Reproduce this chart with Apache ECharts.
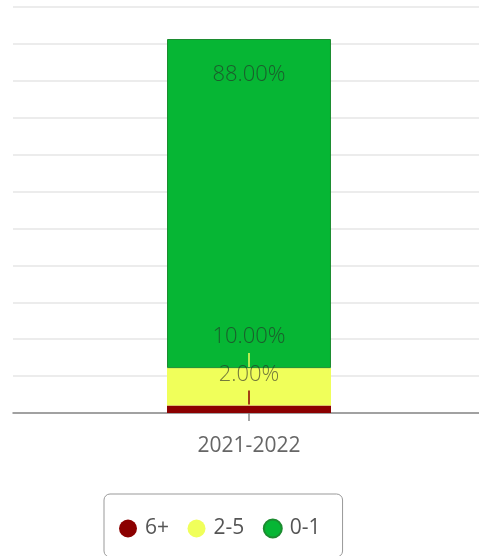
<!DOCTYPE html>
<html><head><meta charset="utf-8">
<script src="https://cdn.jsdelivr.net/npm/echarts@6/dist/echarts.min.js"></script>
<style>html,body{margin:0;padding:0;background:#fff}#c{width:479px;height:556px}</style>
</head><body><div id="c"></div>
<script>
const categories = ['2021-2022'];
const seriesNames = ['6+', '2-5', '0-1'];
const values6plus = [2];
const values2to5 = [10];
const values0to1 = [88];
const colors = ['#8b0000', '#f0ff5a', '#06b634'];

const chart = echarts.init(document.getElementById('c'));
const fmt = p => p.value.toFixed(2) + '%';
const font = {fontFamily: 'Open Sans', fontSize: 22, fontWeight: 300, color: 'rgba(40,40,40,0.62)'};
const Y_MAX = 108.56;
const BAR_W = '35.65%';

function sideLabelSeries(name, data, color) {
  return {
    name, type: 'bar', stack: 's', data, barWidth: BAR_W, xAxisIndex: 1, yAxisIndex: 1,
    itemStyle: {color},
    label: {
      show: true, position: 'top', distance: 1,
      formatter: p => '{v|' + fmt(p) + '}\n{l| }',
      rich: {
        v: Object.assign({lineHeight: 32, align: 'center'}, font),
        l: {width: 1.5, height: 14, lineHeight: 14, fontSize: 1, backgroundColor: color, align: 'center'},
      },
    },
  };
}

chart.setOption({
  animation: false,
  grid: [
    {left: 13, right: 0, top: 7, bottom: 143},
    {left: 19, right: 0, top: 7, bottom: 143},
  ],
  legend: {
    top: 494, left: 104, icon: 'circle', itemWidth: 18, itemHeight: 18, itemGap: 18.5,
    padding: [24, 22, 18, 15], borderColor: '#999', borderWidth: 1, borderRadius: 6,
    textStyle: {fontFamily: 'Open Sans', fontSize: 21, color: '#555', padding: [0, 0, 0, 3]},
    data: seriesNames,
  },
  xAxis: [
    {
      gridIndex: 0, type: 'category', data: categories,
      axisLine: {lineStyle: {color: '#888', width: 1.5}},
      axisTick: {show: false}, axisLabel: {show: false},
    },
    {
      gridIndex: 1, type: 'category', data: categories,
      axisLine: {show: false},
      axisTick: {show: true, alignWithLabel: true, length: 8, lineStyle: {color: '#888', width: 1.5}},
      axisLabel: {fontFamily: 'Open Sans', fontSize: 21, color: '#666', margin: 23},
    },
  ],
  yAxis: [
    {
      gridIndex: 0, type: 'value', min: 0, max: Y_MAX, interval: Y_MAX / 11,
      axisLabel: {show: false}, axisLine: {show: false}, axisTick: {show: false},
      splitLine: {lineStyle: {color: '#e6e6e6', width: 1.5}},
    },
    {
      gridIndex: 1, type: 'value', min: 0, max: Y_MAX,
      axisLabel: {show: false}, axisLine: {show: false}, axisTick: {show: false},
      splitLine: {show: false},
    },
  ],
  series: [
    sideLabelSeries(seriesNames[0], values6plus, colors[0]),
    sideLabelSeries(seriesNames[1], values2to5, colors[1]),
    {
      name: seriesNames[2], type: 'bar', stack: 's', data: values0to1, barWidth: BAR_W,
      xAxisIndex: 1, yAxisIndex: 1,
      itemStyle: {color: colors[2], borderColor: '#1c8c30', borderWidth: 1},
      label: Object.assign({show: true, position: 'insideTop', distance: 25, formatter: fmt}, font),
    },
  ],
});
</script></body></html>
